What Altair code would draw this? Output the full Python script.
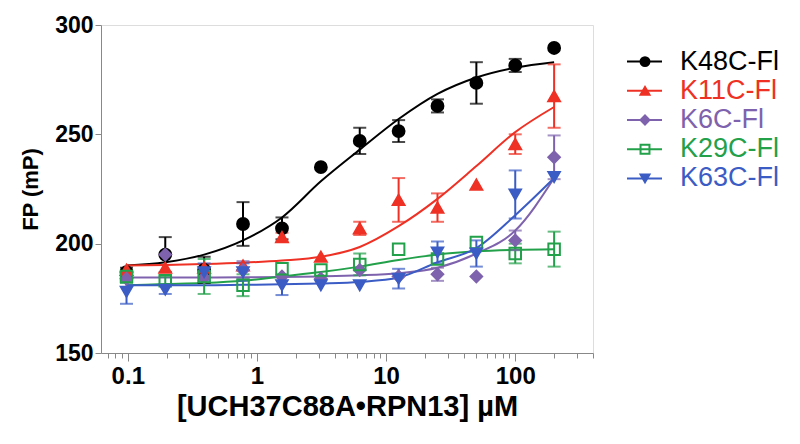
import altair as alt
import pandas as pd

# ---- data ----
conc = [0.0977, 0.195, 0.39, 0.78, 1.5625, 3.125, 6.25, 12.5, 25, 50, 100, 200]
series = ["K48C-Fl", "K11C-Fl", "K6C-Fl", "K29C-Fl", "K63C-Fl"]
colors = ["#000000", "#ee3124", "#7e62ad", "#23a04a", "#3b5cc4"]
shapes = ["circle", "triangle-up", "diamond", "square", "triangle-down"]
fills = ["#000000", "#ee3124", "#7e62ad", "transparent", "#3b5cc4"]
sizes = [140, 130, 70, 110, 150]

k48_mean = [187, 195, 188, 209, 207, 235, 247, 251.5, 263, 273.5, 281.5, 289.5]
k48_err = [2, 8, 6, 10, 5, 0, 6, 5, 3, 9.5, 3, 0]
k11_mean = [188, 189, 189, 190, 203, 194, 207, 220, 216.5, 227, 245.5, 267.5]
k11_err = [0, 0, 0, 0, 2, 0, 3, 10, 6.5, 0, 4.5, 14.5]
k6_mean = [184, 195, 184.5, 188, 185, 184, 188, 185, 186, 185, 201.5, 239.5]
k6_err = [0, 0, 0, 4, 0, 0, 0, 0, 3, 0, 4.5, 10]
k29_mean = [185, 183, 185, 181, 188.5, 188, 190.5, 197.5, 193, 200.5, 195.5, 197.5]
k29_err = [3, 2, 8, 5, 0, 0, 5, 0, 0, 0, 4.5, 8]
k63_mean = [178, 179, 187, 187, 181, 181, 181, 184, 196, 195.5, 222.5, 230.5]
k63_err = [5.5, 2, 4, 4, 4.5, 0, 0, 4.5, 5, 6, 11, 0]

# fitted curves, read at the same concentrations
k48_fit = [190, 191.5, 195, 201.5, 212, 228.5, 243, 257, 268.5, 276, 280.5, 283]
k11_fit = [190, 190.3, 190.7, 191.3, 192.3, 194, 198.5, 208, 220.5, 235.5, 251, 262.5]
k6_fit = [184.5, 184.5, 184.5, 184.6, 184.7, 185, 185.5, 186.5, 189, 195.5, 206, 230]
k29_fit = [181, 181.5, 182, 183, 185, 187, 189.5, 192.5, 195, 196.5, 197.2, 197.5]
k63_fit = [181, 181, 181, 181.2, 181.4, 181.8, 182.5, 184.5, 191.5, 198, 213, 230]

x_ticks = [0.07, 0.08, 0.09, 0.1, 0.2, 0.3, 0.4, 0.5, 0.6, 0.7, 0.8, 0.9,
           1, 2, 3, 4, 5, 6, 7, 8, 9, 10, 20, 30, 40, 50, 60, 70, 80, 90,
           100, 200, 300, 400]
y_ticks = [150, 200, 250, 300]

means = [k48_mean, k11_mean, k6_mean, k29_mean, k63_mean]
errs = [k48_err, k11_err, k6_err, k29_err, k63_err]
fits = [k48_fit, k11_fit, k6_fit, k29_fit, k63_fit]

rows, fit_rows = [], []
for s, m, e, f in zip(series, means, errs, fits):
    for c, mv, ev, fv in zip(conc, m, e, f):
        rows.append({"series": s, "conc": c, "mean": mv, "err": ev,
                     "lo": mv - ev, "hi": mv + ev})
        fit_rows.append({"series": s, "conc": c, "fit": fv})
pts = pd.DataFrame(rows)
fit = pd.DataFrame(fit_rows)
errdf = pts[pts["err"] > 0]
leg = pd.DataFrame({"series": series})

FONT = "Liberation Sans"

X = alt.X("conc:Q", scale=alt.Scale(type="log", domain=[0.062, 400]),
          axis=alt.Axis(values=x_ticks, title="[UCH37C88A\u2022RPN13] \u00b5M",
                        labelExpr="datum.value == 0.1 ? '0.1' : datum.value == 1 ? '1' : datum.value == 10 ? '10' : datum.value == 100 ? '100' : ''",
                        tickSize={"condition": {"test": "datum.value == 0.1 || datum.value == 1 || datum.value == 10 || datum.value == 100", "value": 8}, "value": 5},
                        grid=False, labelFontSize=24, labelFontWeight="bold",
                        titleFontSize=29, titleFontWeight="bold", titlePadding=4,
                        labelPadding=3))
Y_AX = alt.Axis(values=y_ticks, title="FP (mP)", grid=False, tickSize=6,
                labelFontSize=23, labelFontWeight="bold", titleFontSize=22,
                titleFontWeight="bold", titlePadding=12, labelPadding=2)

col = alt.Color("series:N", scale=alt.Scale(domain=series, range=colors), legend=None)
shp = alt.Shape("series:N", scale=alt.Scale(domain=series, range=shapes), legend=None)
fil = alt.Fill("series:N", scale=alt.Scale(domain=series, range=fills), legend=None)
siz = alt.Size("series:N", scale=alt.Scale(domain=series, range=sizes), legend=None)

lines = alt.Chart(fit).mark_line(strokeWidth=2, interpolate="monotone").encode(
    x=X, y=alt.Y("fit:Q", scale=alt.Scale(domain=[150, 300]), axis=Y_AX),
    color=col, detail="series:N")

bars = alt.Chart(errdf).mark_rule(strokeWidth=2).encode(
    x=X, y=alt.Y("lo:Q", scale=alt.Scale(domain=[150, 300]), axis=Y_AX),
    y2="hi:Q", color=col)
cap_lo = alt.Chart(errdf).mark_tick(orient="horizontal", size=13, thickness=2).encode(
    x=X, y=alt.Y("lo:Q", scale=alt.Scale(domain=[150, 300]), axis=Y_AX), color=col)
cap_hi = alt.Chart(errdf).mark_tick(orient="horizontal", size=13, thickness=2).encode(
    x=X, y=alt.Y("hi:Q", scale=alt.Scale(domain=[150, 300]), axis=Y_AX), color=col)

points = alt.Chart(pts).mark_point(opacity=1, strokeWidth=2).encode(
    x=X, y=alt.Y("mean:Q", scale=alt.Scale(domain=[150, 300]), axis=Y_AX),
    color=col, shape=shp, fill=fil, size=siz)

main = alt.layer(lines, bars, cap_lo, cap_hi, points)

LY = alt.Y("series:N", scale=alt.Scale(domain=series, range=[22, 168]), axis=None)
leg_line = alt.Chart(leg).mark_rule(strokeWidth=2).encode(
    x=alt.value(526), x2=alt.value(561), y=LY, color=col)
leg_pt = alt.Chart(leg).mark_point(opacity=1, strokeWidth=2, size=80).encode(
    x=alt.value(544), y=LY, color=col, shape=shp, fill=fil)
leg_txt = alt.Chart(leg).mark_text(align="left", baseline="middle", fontSize=27,
                                   font=FONT).encode(
    x=alt.value(579), y=LY, text="series:N", color=col)
legend = alt.layer(leg_line, leg_pt, leg_txt)

chart = alt.layer(main, legend).resolve_scale(y="independent").properties(
    width=492, height=328,
    autosize=alt.AutoSizeParams(type="none"),
    padding={"left": 93, "top": 17, "right": 199, "bottom": 83},
).configure_view(stroke="#000000", strokeWidth=2).configure_axis(
    domainColor="#000000", domainWidth=2, tickColor="#000000", tickWidth=2,
    labelColor="#000000", titleColor="#000000", labelFont=FONT, titleFont=FONT
).configure(background="white")

chart.save("out.html", embed_options={"renderer": "svg", "actions": False})
